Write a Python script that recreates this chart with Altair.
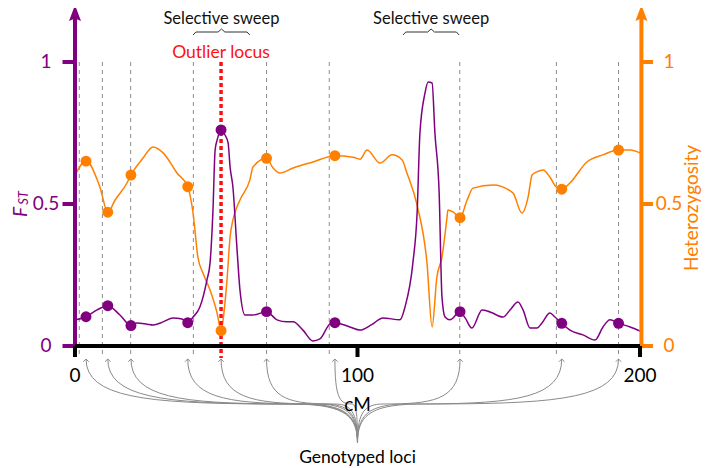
import altair as alt
import pandas as pd
import numpy as np

# ---------------- data ----------------
fst_cm = [0, 3.9, 7.8, 11.6, 15.9, 19.8, 21.9, 25.5, 27.6, 31.2, 34.7, 37.9, 39.9, 41.8, 44.2,
          46.7, 47.8, 48.8, 49.6, 50.3, 51.7, 53.1, 54.2, 54.9, 55.9, 57.3, 58.4, 60.2, 63.0,
          67.8, 71.5, 75.0, 77.2, 80.7, 84.2, 86.7, 90.3, 92.0, 97.3, 100.9, 105.0, 109.0,
          115.0, 116.8, 119.6, 121.1, 122.1, 123.9, 125.0, 126.4, 127.4, 128.9, 129.9, 131.0,
          132.7, 136.3, 138.1, 140.5, 144.1, 146.9, 151.5, 154.0, 156.8, 158.6, 161.1, 163.5,
          165.3, 168.1, 169.9, 172.3, 175.2, 179.8, 184.1, 186.9, 189.4, 192.4, 196.5, 200]
fst_val = [0.092, 0.103, 0.127, 0.142, 0.109, 0.072, 0.081, 0.077, 0.074, 0.085, 0.099, 0.095,
           0.082, 0.102, 0.137, 0.232, 0.292, 0.468, 0.690, 0.725, 0.761, 0.743, 0.715, 0.630,
           0.560, 0.349, 0.197, 0.109, 0.109, 0.121, 0.092, 0.085, 0.085, 0.056, 0.018, 0.025,
           0.078, 0.082, 0.067, 0.056, 0.075, 0.099, 0.092, 0.137, 0.292, 0.468, 0.750, 0.891,
           0.930, 0.926, 0.750, 0.540, 0.173, 0.102, 0.092, 0.121, 0.099, 0.063, 0.127, 0.120,
           0.102, 0.127, 0.155, 0.127, 0.063, 0.063, 0.081, 0.116, 0.102, 0.080, 0.056, 0.039,
           0.021, 0.067, 0.092, 0.080, 0.067, 0.053]

het_cm = [0, 3.9, 8.8, 11.6, 14.2, 18.4, 19.8, 24.1, 27.6, 31.2, 36.1, 39.9, 41.8, 43.5, 45.3,
          47.8, 50.3, 51.7, 52.7, 53.8, 54.9, 55.9, 58.4, 61.9, 63.0, 67.8, 70.1, 72.6, 77.2,
          84.2, 92.0, 98.4, 100.9, 103.4, 108.0, 112.2, 115.8, 117.5, 121.1, 124.6, 126.4,
          128.1, 129.9, 131.7, 132.0, 133.8, 136.3, 138.8, 140.9, 148.0, 155.0, 158.2, 160.4,
          161.8, 163.5, 165.7, 168.1, 170.3, 172.3, 175.2, 181.2, 186.9, 192.4, 196.5, 200]
het_val = [0.602, 0.651, 0.560, 0.471, 0.514, 0.574, 0.602, 0.662, 0.701, 0.680, 0.609, 0.561,
           0.468, 0.313, 0.257, 0.197, 0.116, 0.054, 0.116, 0.232, 0.384, 0.444, 0.514, 0.585,
           0.630, 0.661, 0.627, 0.609, 0.627, 0.648, 0.670, 0.665, 0.658, 0.690, 0.644, 0.673,
           0.655, 0.609, 0.496, 0.292, 0.067, 0.243, 0.313, 0.454, 0.479, 0.472, 0.452, 0.514,
           0.556, 0.567, 0.539, 0.468, 0.525, 0.602, 0.613, 0.620, 0.595, 0.560, 0.552, 0.574,
           0.648, 0.673, 0.690, 0.690, 0.680]

loci_cm = [3.9, 11.6, 19.8, 39.9, 51.7, 67.8, 92.0, 136.3, 172.3, 192.4]
loci_fst = [0.103, 0.142, 0.072, 0.082, 0.761, 0.121, 0.082, 0.121, 0.080, 0.080]
loci_het = [0.651, 0.471, 0.602, 0.561, 0.054, 0.661, 0.670, 0.452, 0.552, 0.690]
guide_cm = [1.5, 9.7, 19.7, 41.9, 67.8, 90.0, 136.2, 170.4, 192.4]
outlier_cm = 51.7
sweep_ranges = [(41.8, 61.9), (116.1, 136.0)]
y_ticks = [0, 0.5, 1]
y_labels = ["0", "0.5", "1"]
x_ticks = [0, 100, 200]
x_labels = ["0", "100", "200"]

PURPLE = "#800080"
ORANGE = "#ff8000"
RED = "#ff1010"
FONT = "Lato"

# ---------------- layout: plot area pixel geometry ----------------
W, H = 694, 460
PX_PER_CM = 2.825
PX_PER_UNIT = 284.0
X0, Y0 = 67, 338           # pixel of (0 cM, 0) inside the plot area
XMIN = -X0 / PX_PER_CM
XMAX = XMIN + W / PX_PER_CM
YMAX = Y0 / PX_PER_UNIT
YMIN = YMAX - H / PX_PER_UNIT


def vy(py):   # page-pixel row -> value (annotation placement)
    return (Y0 + 8 - py) / PX_PER_UNIT


def cx(px):   # page-pixel column -> cM (annotation placement)
    return (px - 8 - X0) / PX_PER_CM


xs = alt.Scale(domain=[XMIN, XMAX], nice=False, zero=False)
ys = alt.Scale(domain=[YMIN, YMAX], nice=False, zero=False)
X = alt.X("x:Q", scale=xs, axis=None)
Y = alt.Y("y:Q", scale=ys, axis=None)

layers = []

# dashed guides at loci
gdf = pd.DataFrame({"x": guide_cm, "y": 1.0, "y2": vy(357)})
layers.append(alt.Chart(gdf).mark_rule(color="#8c8c8c", strokeWidth=1, strokeDash=[4, 4])
              .encode(x=X, y=Y, y2="y2:Q"))

# curves
layers.append(alt.Chart(pd.DataFrame({"x": het_cm, "y": het_val}))
              .mark_line(color=ORANGE, strokeWidth=1.5, interpolate="monotone").encode(x=X, y=Y))
layers.append(alt.Chart(pd.DataFrame({"x": fst_cm, "y": fst_val}))
              .mark_line(color=PURPLE, strokeWidth=1.5, interpolate="monotone").encode(x=X, y=Y))

# outlier locus
odf = pd.DataFrame({"x": [outlier_cm], "y": [1.0], "y2": [vy(358)]})
layers.append(alt.Chart(odf).mark_rule(color=RED, strokeWidth=3.5, strokeDash=[4, 3])
              .encode(x=X, y=Y, y2="y2:Q"))

# points
layers.append(alt.Chart(pd.DataFrame({"x": loci_cm, "y": loci_het}))
              .mark_circle(color=ORANGE, size=120, opacity=1).encode(x=X, y=Y))
layers.append(alt.Chart(pd.DataFrame({"x": loci_cm, "y": loci_fst}))
              .mark_circle(color=PURPLE, size=120, opacity=1).encode(x=X, y=Y))


# arrows from "Genotyped loci"
def bez(p0, p1, p2, p3, n=18):
    t = np.linspace(0, 1, n)[:, None]
    p0, p1, p2, p3 = map(np.array, (p0, p1, p2, p3))
    return (1 - t) ** 3 * p0 + 3 * (1 - t) ** 2 * t * p1 + 3 * (1 - t) * t ** 2 * p2 + t ** 3 * p3


rows = []
c0 = cx(357.5)
for i, lx in enumerate(loci_cm):
    d = lx - c0
    m = (c0 + 0.25 * d, vy(404))
    s1 = bez((c0, vy(443)), (c0, vy(415)), (c0 + 0.05 * d, vy(404)), m)
    s2 = bez(m, (c0 + 0.75 * d, vy(404)), (lx, vy(400)), (lx, vy(359)))
    pts = np.vstack([s1, s2[1:]])
    for k, (px_, py_) in enumerate(pts):
        rows.append({"x": px_, "y": py_, "id": i, "o": k})
adf = pd.DataFrame(rows)
layers.append(alt.Chart(adf).mark_line(color="#8a8a8a", strokeWidth=1)
              .encode(x=X, y=Y, detail="id:N", order="o:Q"))
tips = pd.DataFrame({"x": loci_cm, "y": vy(359)})
layers.append(alt.Chart(tips).mark_point(shape="M-1,1L0,0L1,1", size=30, filled=False,
                                         color="#8a8a8a", strokeWidth=1, opacity=1)
              .encode(x=X, y=Y))

# ---------------- axes (drawn by hand) ----------------
sp = pd.DataFrame({"x": [0, 200.5], "y": [-0.008, -0.008], "y2": [vy(18), vy(18)], "c": ["L", "R"]})
layers.append(alt.Chart(sp[sp.c == "L"]).mark_rule(color=PURPLE, strokeWidth=4)
              .encode(x=X, y=Y, y2="y2:Q"))
layers.append(alt.Chart(sp[sp.c == "R"]).mark_rule(color=ORANGE, strokeWidth=4)
              .encode(x=X, y=Y, y2="y2:Q"))
arrow_shape = "M0,-1L0.6,0.6L0,0.35L-0.6,0.6Z"
layers.append(alt.Chart(pd.DataFrame({"x": [0], "y": [vy(15)]}))
              .mark_point(shape=arrow_shape, size=400, filled=True, color=PURPLE, opacity=1)
              .encode(x=X, y=Y))
layers.append(alt.Chart(pd.DataFrame({"x": [200.5], "y": [vy(15)]}))
              .mark_point(shape=arrow_shape, size=400, filled=True, color=ORANGE, opacity=1)
              .encode(x=X, y=Y))

lt = pd.DataFrame({"x": cx(62.5), "x2": 0.0, "y": y_ticks})
layers.append(alt.Chart(lt).mark_rule(color=PURPLE, strokeWidth=4).encode(x=X, x2="x2:Q", y=Y))
rt = pd.DataFrame({"x": 200.5, "x2": cx(653), "y": y_ticks})
layers.append(alt.Chart(rt).mark_rule(color=ORANGE, strokeWidth=4).encode(x=X, x2="x2:Q", y=Y))

xa = pd.DataFrame({"x": [0], "x2": [200], "y": [0]})
layers.append(alt.Chart(xa).mark_rule(color="black", strokeWidth=4).encode(x=X, x2="x2:Q", y=Y))
xt = pd.DataFrame({"x": x_ticks, "y": 0.0, "y2": vy(357)})
layers.append(alt.Chart(xt).mark_rule(color="black", strokeWidth=4).encode(x=X, y=Y, y2="y2:Q"))

layers.append(alt.Chart(pd.DataFrame({"x": cx(46), "y": y_ticks, "t": y_labels}))
              .mark_text(font=FONT, fontSize=19, color=PURPLE, align="center", baseline="middle")
              .encode(x=X, y=Y, text="t:N"))
layers.append(alt.Chart(pd.DataFrame({"x": cx(669), "y": y_ticks, "t": y_labels}))
              .mark_text(font=FONT, fontSize=19, color=ORANGE, align="center", baseline="middle")
              .encode(x=X, y=Y, text="t:N"))
layers.append(alt.Chart(pd.DataFrame({"x": x_ticks, "y": vy(382), "t": x_labels}))
              .mark_text(font=FONT, fontSize=19, color="black", align="center", baseline="alphabetic")
              .encode(x=X, y=Y, text="t:N"))

layers.append(alt.Chart(pd.DataFrame({"x": [cx(357.5)], "y": [vy(411)], "t": ["cM"]}))
              .mark_text(font=FONT, fontSize=19, color="black", align="center", baseline="alphabetic")
              .encode(x=X, y=Y, text="t:N"))
layers.append(alt.Chart(pd.DataFrame({"x": [cx(357.5)], "y": [vy(463)], "t": ["Genotyped loci"]}))
              .mark_text(font=FONT, fontSize=17.5, color="black", align="center", baseline="alphabetic")
              .encode(x=X, y=Y, text="t:N"))
layers.append(alt.Chart(pd.DataFrame({"x": [cx(21)], "y": [vy(212)], "t": ["F"]}))
              .mark_text(font=FONT, fontSize=19, fontStyle="italic", color=PURPLE, angle=270,
                         align="center", baseline="middle")
              .encode(x=X, y=Y, text="t:N"))
layers.append(alt.Chart(pd.DataFrame({"x": [cx(23.5)], "y": [vy(198)], "t": ["ST"]}))
              .mark_text(font=FONT, fontSize=13, fontStyle="italic", color=PURPLE, angle=270,
                         align="center", baseline="middle")
              .encode(x=X, y=Y, text="t:N"))
layers.append(alt.Chart(pd.DataFrame({"x": [cx(692)], "y": [vy(208)], "t": ["Heterozygosity"]}))
              .mark_text(font=FONT, fontSize=19, color=ORANGE, angle=270,
                         align="center", baseline="middle")
              .encode(x=X, y=Y, text="t:N"))

layers.append(alt.Chart(pd.DataFrame({"x": [outlier_cm], "y": [vy(58)], "t": ["Outlier locus"]}))
              .mark_text(font=FONT, fontSize=17.5, color=RED, align="center", baseline="alphabetic")
              .encode(x=X, y=Y, text="t:N"))
brows = []
trows = []
for j, (a, b) in enumerate(sweep_ranges):
    m = (a + b) / 2
    pts = [(a, vy(35)), (a + 1.0, vy(32)), (m - 1.2, vy(32)), (m, vy(29)), (m + 1.2, vy(32)),
           (b - 1.0, vy(32)), (b, vy(35))]
    for k, (bx, by) in enumerate(pts):
        brows.append({"x": bx, "y": by, "id": j, "o": k})
    trows.append({"x": m, "y": vy(24), "t": "Selective sweep"})
layers.append(alt.Chart(pd.DataFrame(brows)).mark_line(color="#333333", strokeWidth=1)
              .encode(x=X, y=Y, detail="id:N", order="o:Q"))
layers.append(alt.Chart(pd.DataFrame(trows))
              .mark_text(font=FONT, fontSize=16.5, color="#111111", align="center", baseline="alphabetic")
              .encode(x=X, y=Y, text="t:N"))

chart = alt.layer(*layers).properties(
    width=W, height=H, autosize=alt.AutoSizeParams(type="none"), padding=0
).configure_view(stroke=None)

chart.save("out.html", embed_options={"renderer": "svg", "actions": False})
